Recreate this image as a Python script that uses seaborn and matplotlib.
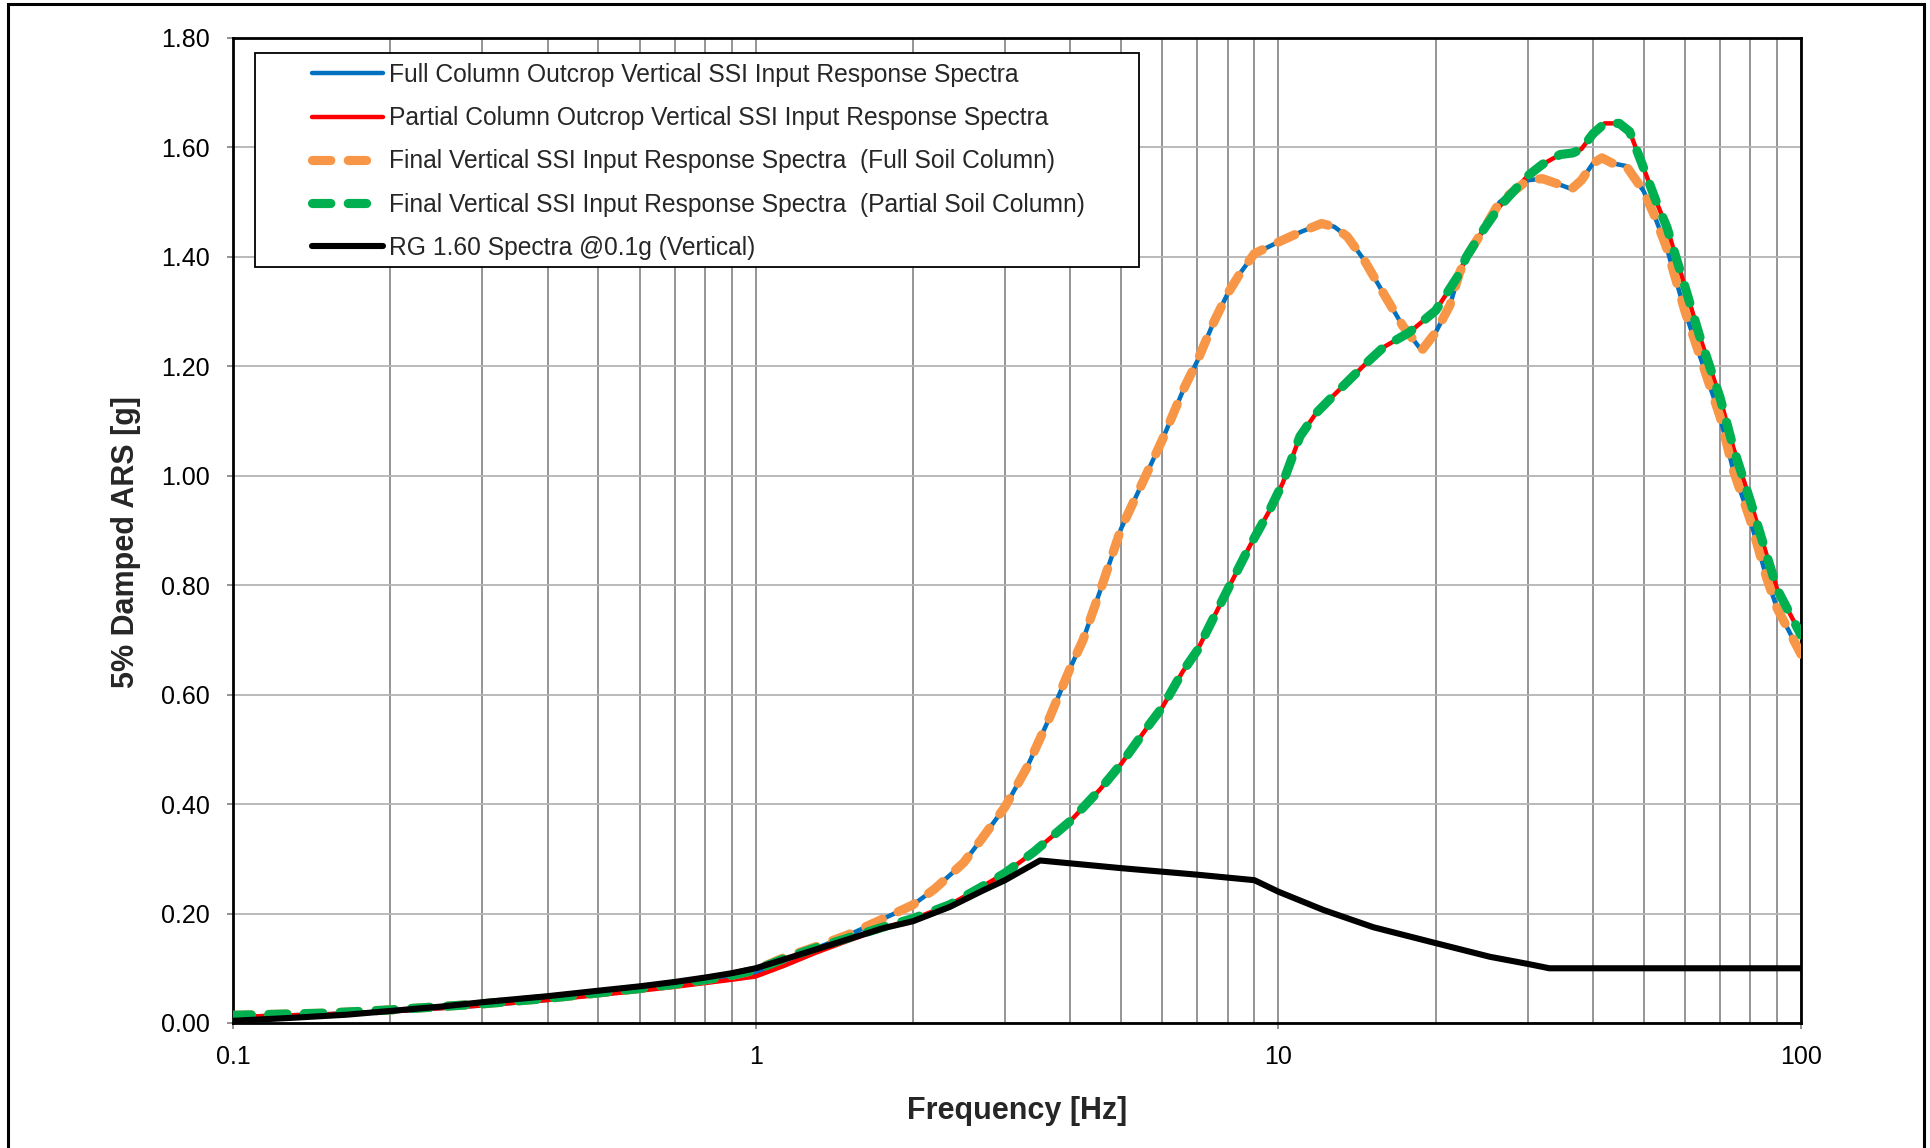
import matplotlib
matplotlib.use("Agg")
import matplotlib.pyplot as plt
from matplotlib.patches import Rectangle
from matplotlib.ticker import FixedLocator, FormatStrFormatter, LogLocator, NullFormatter
import seaborn as sns
import pandas as pd

# ---------------- data ----------------
freq_full = [0.1, 0.15, 0.2, 0.3, 0.4, 0.5, 0.6, 0.7, 0.8, 0.9, 1.0, 1.13, 1.3, 1.5, 1.75,
             2.0, 2.2, 2.5, 2.7, 3.0, 3.3, 3.65, 4.0, 4.23, 4.62, 5.0, 5.5, 6.0, 6.6, 7.0,
             7.5, 8.0, 8.45, 9.0, 10.0, 11.0, 12.1, 12.8, 13.55, 14.6, 15.9, 17.3, 18.8,
             20.0, 21.3, 22.2, 22.9, 24.7, 26.5, 30.0, 32.0, 34.1, 36.4, 38.0, 40.0, 41.6,
             43.6, 46.3, 50.0, 52.3, 55.4, 60.0, 64.0, 70.0, 74.2, 80.0, 85.9, 90.0, 100.0]
full_column = [0.011, 0.016, 0.021, 0.032, 0.042, 0.052, 0.060, 0.068, 0.075, 0.082, 0.090,
               0.113, 0.136, 0.160, 0.190, 0.216, 0.245, 0.293, 0.335, 0.395, 0.466, 0.558,
               0.649, 0.700, 0.805, 0.903, 0.988, 1.066, 1.160, 1.210, 1.278, 1.333, 1.370,
               1.406, 1.427, 1.445, 1.461, 1.455, 1.437, 1.394, 1.333, 1.274, 1.229, 1.262,
               1.312, 1.370, 1.400, 1.450, 1.500, 1.540, 1.543, 1.534, 1.524, 1.540, 1.571,
               1.581, 1.571, 1.566, 1.520, 1.478, 1.415, 1.300, 1.220, 1.108, 1.010, 0.919,
               0.814, 0.758, 0.674]
final_full = [0.014, 0.018, 0.024, 0.035, 0.045, 0.055, 0.063, 0.071, 0.079, 0.087, 0.097,
              0.119, 0.139, 0.161, 0.190, 0.216, 0.245, 0.293, 0.335, 0.395, 0.466, 0.558,
              0.649, 0.700, 0.805, 0.903, 0.988, 1.066, 1.160, 1.210, 1.278, 1.333, 1.370,
              1.406, 1.427, 1.445, 1.461, 1.455, 1.437, 1.394, 1.333, 1.274, 1.229, 1.262,
              1.312, 1.370, 1.400, 1.450, 1.500, 1.540, 1.543, 1.534, 1.524, 1.540, 1.571,
              1.581, 1.571, 1.566, 1.520, 1.478, 1.415, 1.300, 1.220, 1.108, 1.010, 0.919,
              0.814, 0.758, 0.674]

freq_part = [0.1, 0.15, 0.2, 0.3, 0.4, 0.5, 0.6, 0.7, 0.8, 0.9, 1.0, 1.13, 1.3, 1.5, 1.75,
             2.0, 2.35, 2.72, 3.0, 3.4, 4.0, 4.56, 5.0, 5.66, 6.0, 6.56, 7.0, 7.63, 8.0, 8.8,
             9.6, 10.2, 11.0, 11.8, 12.7, 14.7, 15.9, 17.8, 20.0, 22.0, 22.9, 24.7, 26.5,
             30.0, 32.0, 34.6, 36.6, 38.0, 40.0, 42.1, 44.9, 47.0, 50.0, 52.9, 55.4, 60.0,
             64.0, 70.0, 74.2, 80.0, 85.9, 90.0, 100.0]
partial_column = [0.011, 0.016, 0.021, 0.032, 0.042, 0.051, 0.059, 0.066, 0.073, 0.079, 0.085,
                  0.104, 0.128, 0.150, 0.173, 0.190, 0.216, 0.250, 0.274, 0.312, 0.369, 0.427,
                  0.473, 0.545, 0.577, 0.642, 0.681, 0.753, 0.792, 0.870, 0.935, 0.987, 1.072,
                  1.114, 1.145, 1.205, 1.235, 1.262, 1.302, 1.363, 1.400, 1.450, 1.492, 1.548,
                  1.569, 1.587, 1.590, 1.597, 1.625, 1.644, 1.644, 1.629, 1.562, 1.500, 1.454,
                  1.345, 1.255, 1.143, 1.052, 0.954, 0.856, 0.793, 0.709]
final_partial = [0.014, 0.018, 0.024, 0.035, 0.045, 0.055, 0.063, 0.071, 0.079, 0.087, 0.097,
                 0.117, 0.137, 0.155, 0.175, 0.191, 0.216, 0.250, 0.274, 0.312, 0.369, 0.427,
                 0.473, 0.545, 0.577, 0.642, 0.681, 0.753, 0.792, 0.870, 0.935, 0.987, 1.072,
                 1.114, 1.145, 1.205, 1.235, 1.262, 1.302, 1.363, 1.400, 1.450, 1.492, 1.548,
                 1.569, 1.587, 1.590, 1.597, 1.625, 1.644, 1.644, 1.629, 1.562, 1.500, 1.454,
                 1.345, 1.255, 1.143, 1.052, 0.954, 0.856, 0.793, 0.709]

freq_rg = [0.1, 0.127, 0.164, 0.2, 0.25, 0.3, 0.4, 0.5, 0.6, 0.7, 0.8, 0.9, 1.0, 1.3, 1.75,
           2.0, 2.35, 2.72, 3.0, 3.5, 5.0, 7.0, 9.0, 10.0, 12.2, 15.2, 20.0, 25.4, 30.0,
           33.0, 100.0]
rg160 = [0.004, 0.009, 0.015, 0.022, 0.030, 0.038, 0.049, 0.059, 0.067, 0.075, 0.083, 0.091,
         0.100, 0.134, 0.173, 0.186, 0.212, 0.242, 0.261, 0.297, 0.283, 0.271, 0.261, 0.240,
         0.2065, 0.175, 0.146, 0.121, 0.108, 0.100, 0.100]

labels = ["Full Column Outcrop Vertical SSI Input Response Spectra",
          "Partial Column Outcrop Vertical SSI Input Response Spectra",
          "Final Vertical SSI Input Response Spectra  (Full Soil Column)",
          "Final Vertical SSI Input Response Spectra  (Partial Soil Column)",
          "RG 1.60 Spectra @0.1g (Vertical)"]
colors = ["#0070C0", "#FF0000", "#F79646", "#00B050", "#000000"]
y_ticks = [0.0, 0.2, 0.4, 0.6, 0.8, 1.0, 1.2, 1.4, 1.6, 1.8]
x_ticks = [0.1, 1, 10, 100]
x_ticklabels = ["0.1", "1", "10", "100"]

# ---------------- style ----------------
sns.set_theme(style="white")
plt.rcParams["font.family"] = ["Liberation Sans", "DejaVu Sans"]

W, H = 1931, 1148
fig = plt.figure(figsize=(W / 100, H / 100), dpi=100)
L, R, T, B = 233, 1801, 38, 1023
ax = fig.add_axes([L / W, 1 - B / H, (R - L) / W, (B - T) / H])

series = [
    (freq_full, full_column, dict(lw=3.2)),
    (freq_part, partial_column, dict(lw=3.2)),
    (freq_full, final_full, dict(lw=6.6, dashes=(2.0, 1.9))),
    (freq_part, final_partial, dict(lw=6.6, dashes=(2.0, 1.9))),
    (freq_rg, rg160, dict(lw=4.4)),
]
for (fx, fy, st), lab, col in zip(series, labels, colors):
    df = pd.DataFrame({"f": fx, "v": fy})
    kw = dict(solid_capstyle="round", dash_capstyle="round", solid_joinstyle="round")
    sns.lineplot(data=df, x="f", y="v", ax=ax, color=col, lw=st["lw"], label=lab,
                 sort=False, estimator=None, zorder=5, **kw)
    if "dashes" in st:
        ax.lines[-1].set_dashes(st["dashes"])

ax.set_xscale("log")
ax.set_xlim(0.1, 100)
ax.set_ylim(0, 1.8)
ax.xaxis.set_major_locator(FixedLocator(x_ticks))
ax.set_xticklabels(x_ticklabels)
ax.xaxis.set_minor_locator(LogLocator(base=10, subs=range(2, 10)))
ax.xaxis.set_minor_formatter(NullFormatter())
ax.yaxis.set_major_locator(FixedLocator(y_ticks))
ax.yaxis.set_major_formatter(FormatStrFormatter("%.2f"))

ax.grid(True, which="both", axis="x", color="#8c8c8c", lw=1.3, zorder=0)
ax.grid(True, which="major", axis="y", color="#b4b4b4", lw=1.3, zorder=0)
ax.set_axisbelow(True)

ax.tick_params(axis="both", which="major", direction="out", length=4.5, width=1.2,
               color="#808080", labelsize=18, labelcolor="black",
               bottom=True, left=True)
ax.tick_params(axis="y", which="major", pad=12)
ax.tick_params(axis="x", which="major", pad=11.5)
ax.tick_params(axis="x", which="minor", length=0)
for sp in ax.spines.values():
    sp.set_color("black")
    sp.set_linewidth(2.0)

ax.set_xlabel("Frequency [Hz]", fontsize=22, fontweight="bold", labelpad=19.5)
ax.set_ylabel("5% Damped ARS [g]", fontsize=22, fontweight="bold")
ax.yaxis.set_label_coords((141 - L) / (R - L), (B - 542) / (B - T))

# legend with a manually drawn box
if ax.get_legend() is not None:
    ax.get_legend().remove()
lx0 = (255 - L) / (R - L)
ly1 = (B - 53) / (B - T)
ly0 = (B - 267) / (B - T)
lw_box = (1139 - 255) / (R - L)
ax.add_patch(Rectangle((lx0, ly0), lw_box, ly1 - ly0, transform=ax.transAxes,
                       facecolor="white", edgecolor="black", lw=1.3, zorder=6))
handles, labs = ax.get_legend_handles_labels()
leg = ax.legend(handles, labs, loc="upper left",
                bbox_to_anchor=((312 - L) / (R - L), (B - 63) / (B - T)),
                frameon=False, fontsize=17.7, handlelength=2.9, handletextpad=0.24,
                labelspacing=0.78, borderpad=0, borderaxespad=0)
leg.set_zorder(7)

# outer frame
fig.patches.append(Rectangle((8 / W, -0.05), (1924 - 8) / W, (H - 4) / H + 0.05,
                             transform=fig.transFigure, fill=False, ec="black", lw=2.2))

fig.savefig("out.png", dpi=100)
